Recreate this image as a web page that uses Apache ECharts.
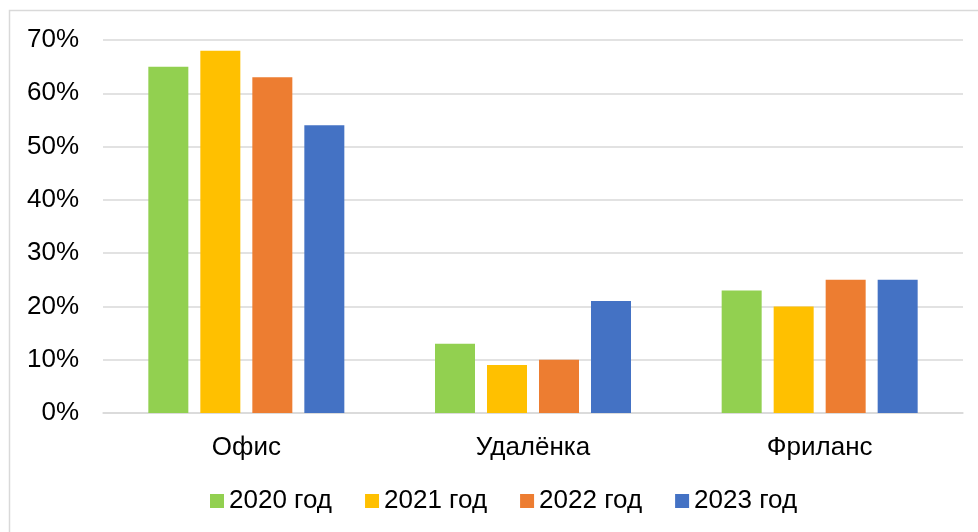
<!DOCTYPE html>
<html>
<head>
<meta charset="utf-8">
<script src="https://cdn.jsdelivr.net/npm/echarts@6/dist/echarts.min.js"></script>
<style>
  html, body { margin: 0; padding: 0; background: #fff; }
  #chart { width: 978px; height: 532px; }
</style>
</head>
<body>
<div id="chart"></div>
<script>
  // категории и значения (%)
  const categories = ['Офис', 'Удалёнка', 'Фриланс'];
  const seriesNames = ['2020 год', '2021 год', '2022 год', '2023 год'];
  const colors = ['#92D050', '#FFC000', '#ED7D31', '#4472C4'];
  const data2020 = [65, 13, 23];
  const data2021 = [68, 9, 20];
  const data2022 = [63, 10, 25];
  const data2023 = [54, 21, 25];
  const allData = [data2020, data2021, data2022, data2023];

  const chart = echarts.init(document.getElementById('chart'));
  const font = 'Liberation Sans, Arial, sans-serif';

  chart.setOption({
    animation: false,
    color: colors,
    textStyle: { fontFamily: font },
    graphic: [{
      type: 'rect',
      shape: { x: 9.5, y: 10.5, width: 980, height: 540 },
      style: { fill: 'none', stroke: '#d9d9d9', lineWidth: 1.5 },
      silent: true
    }],
    grid: { left: 103, right: 15, top: 40, bottom: 119 },
    legend: {
      top: 488,
      left: 210,
      padding: 0,
      itemWidth: 14,
      itemHeight: 14,
      itemGap: 33,
      icon: 'rect',
      textStyle: { fontSize: 26, color: '#000', fontFamily: font },
      data: seriesNames
    },
    xAxis: {
      type: 'category',
      data: categories,
      axisTick: { show: false },
      axisLine: { lineStyle: { color: '#d9d9d9', width: 1.5 } },
      axisLabel: { fontSize: 26, color: '#000', margin: 22, fontFamily: font }
    },
    yAxis: {
      type: 'value',
      min: 0,
      max: 70,
      interval: 10,
      axisLine: { show: false },
      axisTick: { show: false },
      splitLine: { lineStyle: { color: '#d9d9d9', width: 1.5 } },
      axisLabel: { fontSize: 26, color: '#000', margin: 24, formatter: '{value}%', fontFamily: font }
    },
    series: seriesNames.map((name, i) => ({
      name: name,
      type: 'bar',
      data: allData[i],
      barWidth: 40,
      barGap: '30%',
      itemStyle: { color: colors[i] }
    }))
  });

  window.addEventListener('resize', chart.resize);
</script>
</body>
</html>
